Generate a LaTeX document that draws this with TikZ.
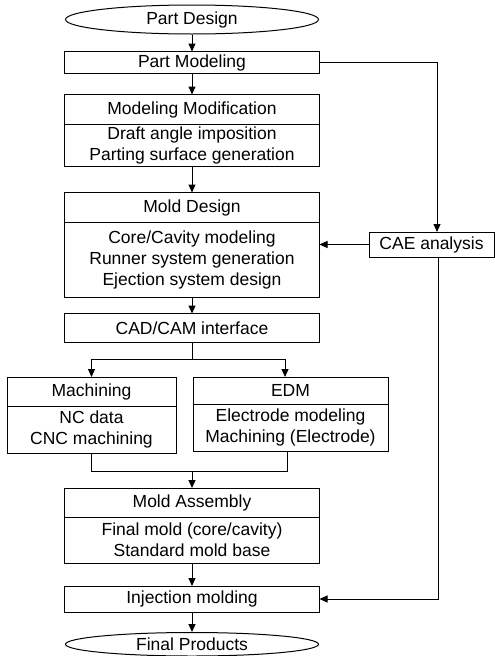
\documentclass[tikz,border=0pt]{standalone}
\usepackage{fontspec}
\setmainfont{Liberation Sans}
\usetikzlibrary{shapes.geometric,arrows.meta,positioning}

\begin{document}
\begin{tikzpicture}[x=1pt, y=-1pt, every node/.style={font=\fontsize{17.5}{21}\selectfont}, align=center]
  \tikzset{block/.style={rectangle, draw=black, line width=1pt, inner sep=0pt, outer sep=0pt, align=center, minimum width=255pt}, term/.style={ellipse, draw=black, line width=1pt, inner sep=0pt, minimum width=253pt}, arr/.style={-{Triangle[length=8pt, width=7pt]}, line width=1pt}, link/.style={line width=1pt}}
  \useasboundingbox (0,0) rectangle (495,656);
  \node[term, minimum height=29pt] (partdesign) at (192,19.5) {Part Design};
  \node[block, minimum height=22pt, below=17pt of partdesign] (partmod) {Part Modeling};
  \node[block, minimum height=30pt, below=21pt of partmod] (modhead) {Modeling Modification};
  \node[block, minimum height=42pt, below=0pt of modhead] (modbody) {Draft angle imposition \\ Parting surface generation};
  \node[block, minimum height=30pt, below=26pt of modbody] (mdhead) {Mold Design};
  \node[block, minimum height=75pt, below=0pt of mdhead] (mdbody) {Core/Cavity modeling \\ Runner system generation \\ Ejection system design};
  \node[block, minimum height=29pt, below=16pt of mdbody] (cadcam) {CAD/CAM interface};
  \node[block, minimum width=169pt, minimum height=29pt] (machead) at (91.5,391.5) {Machining};
  \node[block, minimum width=169pt, minimum height=47pt, below=0pt of machead] (macbody) {NC data \\ CNC machining};
  \node[block, minimum width=195pt, minimum height=27pt] (edmhead) at (290.5,390.5) {EDM};
  \node[block, minimum width=195pt, minimum height=47pt, below=0pt of edmhead] (edmbody) {Electrode modeling \\ Machining (Electrode)};
  \node[block, minimum height=29pt] (mahead) at (192,502.5) {Mold Assembly};
  \node[block, minimum height=46pt, below=0pt of mahead] (mabody) {Final mold (core/cavity) \\ Standard mold base};
  \node[block, minimum height=26pt, below=23pt of mabody] (inj) {Injection molding};
  \node[term, minimum height=23.5pt, below=20pt of inj] (finalprod) {Final Products};
  \node[block, minimum width=125pt, minimum height=25pt] (cae) at (431.5,244.5) {CAE analysis};
  \coordinate (split) at (192,359);
  \coordinate (edmin) at (285,377);
  \coordinate (join) at (192,471);
  \coordinate (edmout) at (287,451);
  \coordinate (caein) at (437,232);
  \coordinate (caeout) at (438,257);
  \draw[arr] (partdesign) -- (partmod);
  \draw[arr] (partmod) -- (modhead);
  \draw[arr] (modbody) -- (mdhead);
  \draw[arr] (mdbody) -- (cadcam);
  \draw[link] (cadcam.south) -- (split);
  \draw[arr] (split) -| (machead.north);
  \draw[arr] (split) -| (edmin);
  \draw[link] (macbody.south) |- (join);
  \draw[link] (join) -| (edmout);
  \draw[arr] (join) -- (mahead);
  \draw[arr] (mabody) -- (inj);
  \draw[arr] (inj) -- (finalprod);
  \draw[arr] (partmod.east) -| (caein);
  \draw[arr] (cae.west) -- (mdbody.east |- cae.west);
  \draw[arr] (caeout) |- (inj.east);
\end{tikzpicture}
\end{document}
